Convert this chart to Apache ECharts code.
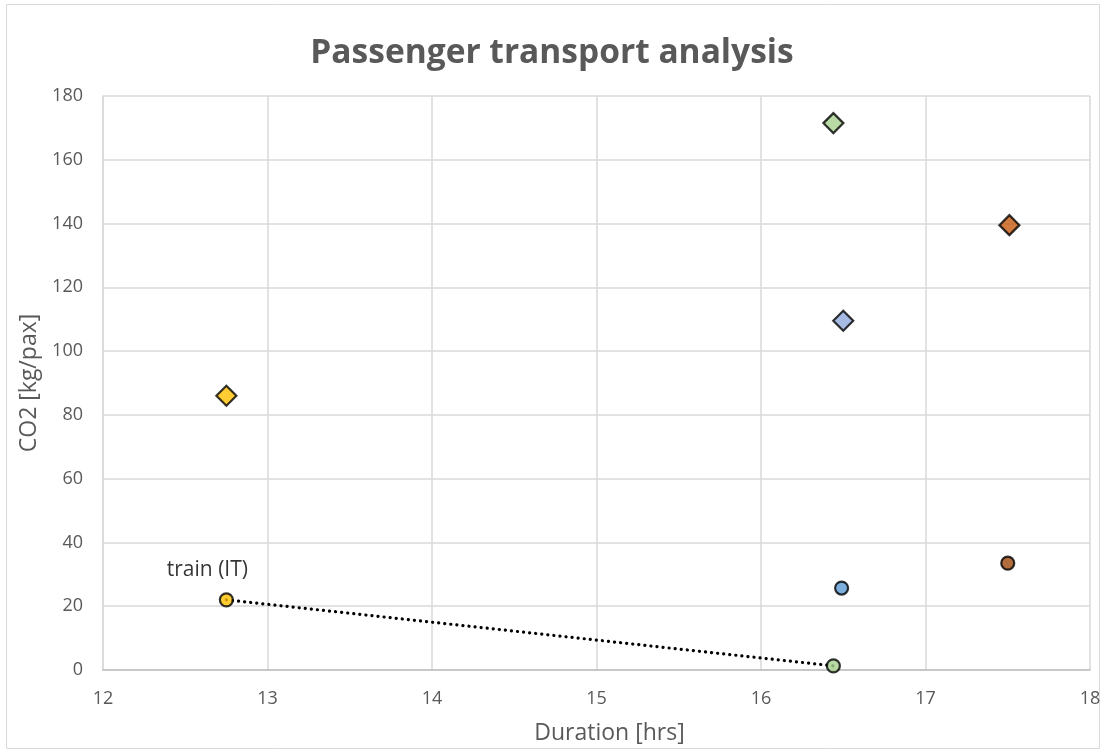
<!DOCTYPE html>
<html><head><meta charset="utf-8">
<script src="https://cdn.jsdelivr.net/npm/echarts@6/dist/echarts.min.js"></script>
<style>html,body{margin:0;padding:0;background:#fff}#c{width:1104px;height:751px}</style>
</head><body><div id="c"></div>
<script>
const xTicks = [12, 13, 14, 15, 16, 17, 18];
const yTicks = [0, 20, 40, 60, 80, 100, 120, 140, 160, 180];
const diamondPts = [[12.75, 86], [16.44, 171.5], [17.51, 139.5], [16.5, 109.5]];
const diamondColors = ['#FFC000', '#A9D18E', '#C55A11', '#8FAADC'];
const circlePts = [[12.75, 22], [16.49, 25.7], [17.5, 33.5], [16.44, 1.3]];
const circleColors = ['#FFC000', '#5B9BD5', '#9E480E', '#A9D18E'];
const trainLine = [[12.75, 22], [16.44, 1.3]];
const trainLabel = 'train (IT)';

const font = '"Open Sans", sans-serif';
const chart = echarts.init(document.getElementById('c'));
chart.setOption({
  animation: false,
  title: {text: 'Passenger transport analysis', left: 'center', top: 31,
    textStyle: {fontFamily: font, fontSize: 33.5, fontWeight: 'bold', color: '#595959'}},
  graphic: [{type: 'rect', shape: {x: 6.5, y: 4.5, width: 1093, height: 744}, style: {fill: 'none', stroke: '#d9d9d9', lineWidth: 1}, silent: true}],
  grid: {left: 103, right: 14, top: 96, bottom: 81, containLabel: false},
  xAxis: {type: 'value', min: xTicks[0], max: xTicks[xTicks.length-1], interval: 1,
    name: 'Duration [hrs]', nameLocation: 'middle', nameGap: 52,
    nameTextStyle: {fontFamily: font, fontSize: 23, color: '#595959', padding: [0, 0, 0, 26]},
    axisLine: {show: true, lineStyle: {color: '#bfbfbf', width: 1.5}},
    axisTick: {show: false},
    axisLabel: {fontFamily: font, fontSize: 18, color: '#595959', margin: 20},
    splitLine: {show: true, lineStyle: {color: '#d9d9d9', width: 1.5}}},
  yAxis: {type: 'value', min: yTicks[0], max: yTicks[yTicks.length-1], interval: 20,
    name: 'CO2 [kg/pax]', nameLocation: 'middle', nameGap: 56, nameRotate: 90,
    nameTextStyle: {fontFamily: font, fontSize: 23, color: '#595959'},
    axisLine: {show: true, lineStyle: {color: '#d9d9d9', width: 1.5}},
    axisTick: {show: false},
    axisLabel: {fontFamily: font, fontSize: 18, color: '#595959', margin: 20},
    splitLine: {show: true, lineStyle: {color: '#d9d9d9', width: 1.5}}},
  series: [
    {type: 'line', data: trainLine, symbol: 'none', z: 2,
      lineStyle: {color: '#000', width: 3.2, type: [0.1, 6], cap: 'round'}},
    {type: 'scatter', symbol: 'diamond', symbolSize: [20, 20], z: 3,
      data: diamondPts.map((p, i) => ({value: p, itemStyle: {color: diamondColors[i]}})),
      itemStyle: {borderColor: '#000', borderWidth: 2.2}},
    {type: 'scatter', symbol: 'circle', symbolSize: 13, z: 3,
      data: circlePts.map((p, i) => ({value: p, itemStyle: {color: circleColors[i]},
        label: i === 0 ? {show: true, formatter: trainLabel, position: 'top', distance: 12, offset: [-19, 0],
          fontFamily: font, fontSize: 21, color: '#000'} : {show: false}})),
      itemStyle: {borderColor: '#000', borderWidth: 2.2}}
  ]
});
</script></body></html>
